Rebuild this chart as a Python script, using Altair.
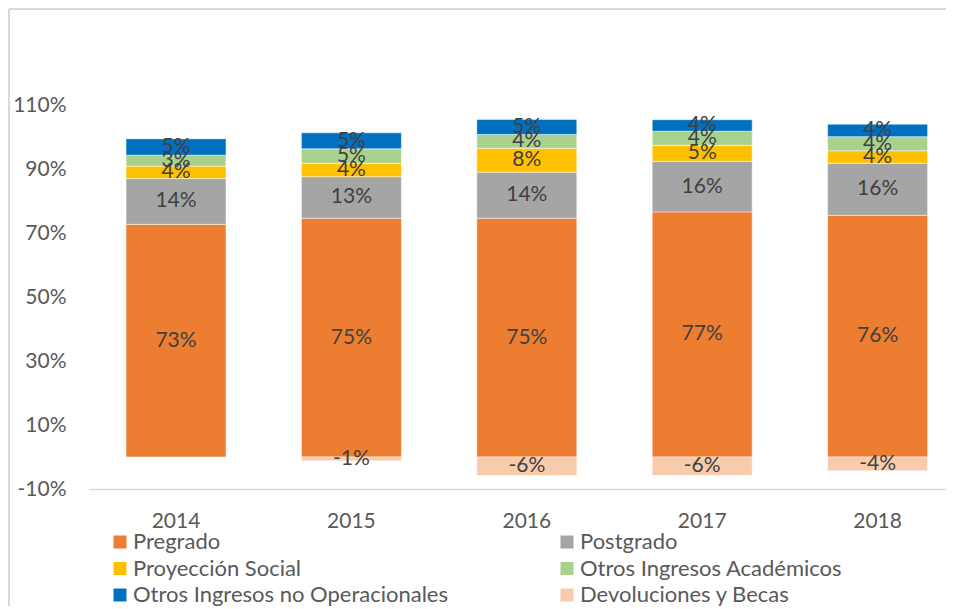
import altair as alt
import pandas as pd

years = ["2014", "2015", "2016", "2017", "2018"]
series = ["Pregrado", "Postgrado", "Proyección Social", "Otros Ingresos Académicos",
          "Otros Ingresos no Operacionales", "Devoluciones y Becas"]
colors = ["#ED7D31", "#A5A5A5", "#FFC000", "#A9D18E", "#0070C0", "#F8CBAD"]

pregrado = [72.7, 74.6, 74.6, 76.6, 75.5]
postgrado = [14.3, 13.0, 14.4, 15.8, 16.3]
proyeccion = [3.9, 4.2, 7.5, 5.0, 3.9]
otros_acad = [3.4, 4.5, 4.3, 4.4, 4.4]
otros_no_op = [5.2, 5.0, 4.7, 3.6, 3.9]
devoluciones = [0.0, -1.2, -5.8, -5.7, -4.3]

y_ticks = [-10, 10, 30, 50, 70, 90, 110]

values = [pregrado, postgrado, proyeccion, otros_acad, otros_no_op, devoluciones]
rows = []
for si, (name, vals) in enumerate(zip(series, values)):
    for yr, v in zip(years, vals):
        rows.append({"year": yr, "serie": name, "value": v, "ord": si})
df = pd.DataFrame(rows)

FONT = "Lato"
FS = 21
TXT = "#595959"

base = alt.Chart(df).transform_stack(
    stack="value", groupby=["year"], sort=[alt.SortField("ord", order="ascending")],
    as_=["v0", "v1"]
).transform_calculate(
    mid="(datum.v0 + datum.v1) / 2",
    lab="round(datum.value) + '%'"
)

xenc = alt.X("year:N", sort=years,
             scale=alt.Scale(paddingInner=0.43, paddingOuter=0.158, align=0.668),
             axis=alt.Axis(title=None, labelAngle=0, ticks=False, domainColor="#d9d9d9",
                           domainWidth=1.5, labelFontSize=FS, labelFont=FONT,
                           labelColor=TXT, labelPadding=21))

bars = base.mark_bar(stroke="white", strokeWidth=0.7, strokeOpacity=0.7).encode(
    x=xenc,
    y=alt.Y("v0:Q", scale=alt.Scale(domain=[-10, 120], nice=False, zero=False),
            axis=alt.Axis(title=None, values=y_ticks, labelExpr="datum.value + '%'",
                          grid=False, domain=False, ticks=False, labelFontSize=FS,
                          labelFont=FONT, labelColor=TXT, labelPadding=23)),
    y2="v1:Q",
    color=alt.Color("serie:N", sort=series,
                    scale=alt.Scale(domain=series, range=colors),
                    legend=alt.Legend(orient="none", legendX=20, legendY=458,
                                      direction="horizontal",
                                      columns=2, columnPadding=108, rowPadding=4.5,
                                      symbolType="square", symbolSize=169,
                                      symbolStrokeWidth=0, labelFontSize=22,
                                      labelFont=FONT, labelColor=TXT, labelOffset=2,
                                      labelLimit=500, title=None)),
)

labels = base.transform_filter("datum.value != 0").mark_text(
    fontSize=FS, font=FONT, color="#404040", align="center", baseline="middle"
).encode(
    x=alt.X("year:N", sort=years),
    y=alt.Y("mid:Q"),
    text="lab:N",
)

one = alt.Chart(pd.DataFrame({"f": [0]}))
frame_top = one.mark_rule(color="#d9d9d9", strokeWidth=2).encode(
    x=alt.value(-80), x2=alt.value(960), y=alt.value(-64))
frame_left = one.mark_rule(color="#d9d9d9", strokeWidth=2).encode(
    x=alt.value(-80), y=alt.value(-64), y2=alt.value(600))

chart = alt.layer(frame_top, frame_left, bars, labels).properties(
    width=857, height=416,
    autosize=alt.AutoSizeParams(type="none"),
    padding={"left": 81, "top": 65, "right": 0, "bottom": 117},
).configure_view(stroke=None)

chart.save("out.html", embed_options={"renderer": "svg", "actions": False})
